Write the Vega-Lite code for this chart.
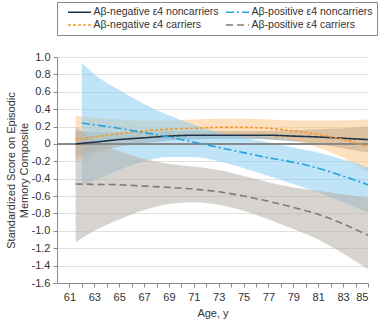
{
  "$schema": "https://vega.github.io/schema/vega-lite/v6.json",
  "width": 311,
  "height": 226,
  "autosize": {"type": "none"},
  "padding": {"left": 57, "top": 57, "right": 12, "bottom": 40},
  "config": {
    "font": "Liberation Sans Narrow, sans-serif",
    "view": {"stroke": null},
    "axis": {
      "labelFontSize": 11,
      "titleFontSize": 11,
      "titleFontWeight": "normal",
      "labelColor": "#333333",
      "titleColor": "#333333",
      "domainColor": "#8a8a8a",
      "tickColor": "#8a8a8a",
      "tickSize": 4,
      "gridColor": "#e0e0e0",
      "labelOverlap": false
    },
    "legend": {"labelFontSize": 10.5, "labelColor": "#333333"}
  },
  "data": {
    "values": [
      {"group": "Aβ-negative ε4 noncarriers", "age": 61.5, "mean": 0.0, "lo": -0.15, "hi": 0.15},
      {"group": "Aβ-negative ε4 noncarriers", "age": 63, "mean": 0.02, "lo": -0.09, "hi": 0.14},
      {"group": "Aβ-negative ε4 noncarriers", "age": 65, "mean": 0.05, "lo": -0.03, "hi": 0.13},
      {"group": "Aβ-negative ε4 noncarriers", "age": 67, "mean": 0.07, "lo": 0.01, "hi": 0.14},
      {"group": "Aβ-negative ε4 noncarriers", "age": 69, "mean": 0.09, "lo": 0.04, "hi": 0.15},
      {"group": "Aβ-negative ε4 noncarriers", "age": 71, "mean": 0.1, "lo": 0.05, "hi": 0.15},
      {"group": "Aβ-negative ε4 noncarriers", "age": 73, "mean": 0.1, "lo": 0.06, "hi": 0.15},
      {"group": "Aβ-negative ε4 noncarriers", "age": 75, "mean": 0.1, "lo": 0.06, "hi": 0.15},
      {"group": "Aβ-negative ε4 noncarriers", "age": 77, "mean": 0.1, "lo": 0.05, "hi": 0.15},
      {"group": "Aβ-negative ε4 noncarriers", "age": 79, "mean": 0.09, "lo": 0.03, "hi": 0.16},
      {"group": "Aβ-negative ε4 noncarriers", "age": 81, "mean": 0.08, "lo": 0.0, "hi": 0.17},
      {"group": "Aβ-negative ε4 noncarriers", "age": 83, "mean": 0.065, "lo": -0.05, "hi": 0.18},
      {"group": "Aβ-negative ε4 noncarriers", "age": 85, "mean": 0.05, "lo": -0.1, "hi": 0.2},

      {"group": "Aβ-negative ε4 carriers", "age": 61.5, "mean": 0.05, "lo": -0.2, "hi": 0.32},
      {"group": "Aβ-negative ε4 carriers", "age": 63, "mean": 0.08, "lo": -0.12, "hi": 0.3},
      {"group": "Aβ-negative ε4 carriers", "age": 65, "mean": 0.12, "lo": -0.03, "hi": 0.28},
      {"group": "Aβ-negative ε4 carriers", "age": 67, "mean": 0.15, "lo": 0.04, "hi": 0.27},
      {"group": "Aβ-negative ε4 carriers", "age": 69, "mean": 0.17, "lo": 0.08, "hi": 0.27},
      {"group": "Aβ-negative ε4 carriers", "age": 71, "mean": 0.18, "lo": 0.1, "hi": 0.28},
      {"group": "Aβ-negative ε4 carriers", "age": 73, "mean": 0.19, "lo": 0.1, "hi": 0.29},
      {"group": "Aβ-negative ε4 carriers", "age": 75, "mean": 0.19, "lo": 0.1, "hi": 0.29},
      {"group": "Aβ-negative ε4 carriers", "age": 77, "mean": 0.18, "lo": 0.08, "hi": 0.28},
      {"group": "Aβ-negative ε4 carriers", "age": 79, "mean": 0.15, "lo": 0.04, "hi": 0.27},
      {"group": "Aβ-negative ε4 carriers", "age": 81, "mean": 0.11, "lo": -0.04, "hi": 0.27},
      {"group": "Aβ-negative ε4 carriers", "age": 83, "mean": 0.05, "lo": -0.16, "hi": 0.27},
      {"group": "Aβ-negative ε4 carriers", "age": 85, "mean": -0.03, "lo": -0.33, "hi": 0.28},

      {"group": "Aβ-positive ε4 noncarriers", "age": 62, "mean": 0.24, "lo": -0.47, "hi": 0.93},
      {"group": "Aβ-positive ε4 noncarriers", "age": 63, "mean": 0.22, "lo": -0.42, "hi": 0.8},
      {"group": "Aβ-positive ε4 noncarriers", "age": 65, "mean": 0.18, "lo": -0.3, "hi": 0.62},
      {"group": "Aβ-positive ε4 noncarriers", "age": 67, "mean": 0.13, "lo": -0.2, "hi": 0.46},
      {"group": "Aβ-positive ε4 noncarriers", "age": 69, "mean": 0.08, "lo": -0.15, "hi": 0.33},
      {"group": "Aβ-positive ε4 noncarriers", "age": 71, "mean": 0.02, "lo": -0.15, "hi": 0.22},
      {"group": "Aβ-positive ε4 noncarriers", "age": 73, "mean": -0.04, "lo": -0.2, "hi": 0.13},
      {"group": "Aβ-positive ε4 noncarriers", "age": 75, "mean": -0.1, "lo": -0.28, "hi": 0.07},
      {"group": "Aβ-positive ε4 noncarriers", "age": 77, "mean": -0.16, "lo": -0.37, "hi": 0.02},
      {"group": "Aβ-positive ε4 noncarriers", "age": 79, "mean": -0.21, "lo": -0.46, "hi": -0.04},
      {"group": "Aβ-positive ε4 noncarriers", "age": 81, "mean": -0.28, "lo": -0.56, "hi": -0.1},
      {"group": "Aβ-positive ε4 noncarriers", "age": 83, "mean": -0.37, "lo": -0.67, "hi": -0.18},
      {"group": "Aβ-positive ε4 noncarriers", "age": 85, "mean": -0.47, "lo": -0.79, "hi": -0.27},

      {"group": "Aβ-positive ε4 carriers", "age": 61.5, "mean": -0.46, "lo": -1.13, "hi": 0.2},
      {"group": "Aβ-positive ε4 carriers", "age": 63, "mean": -0.465, "lo": -1.0, "hi": 0.05},
      {"group": "Aβ-positive ε4 carriers", "age": 65, "mean": -0.47, "lo": -0.87, "hi": -0.08},
      {"group": "Aβ-positive ε4 carriers", "age": 67, "mean": -0.485, "lo": -0.76, "hi": -0.17},
      {"group": "Aβ-positive ε4 carriers", "age": 69, "mean": -0.5, "lo": -0.69, "hi": -0.23},
      {"group": "Aβ-positive ε4 carriers", "age": 71, "mean": -0.52, "lo": -0.67, "hi": -0.26},
      {"group": "Aβ-positive ε4 carriers", "age": 73, "mean": -0.55, "lo": -0.7, "hi": -0.3},
      {"group": "Aβ-positive ε4 carriers", "age": 75, "mean": -0.6, "lo": -0.77, "hi": -0.37},
      {"group": "Aβ-positive ε4 carriers", "age": 77, "mean": -0.66, "lo": -0.87, "hi": -0.44},
      {"group": "Aβ-positive ε4 carriers", "age": 79, "mean": -0.73, "lo": -0.98, "hi": -0.5},
      {"group": "Aβ-positive ε4 carriers", "age": 81, "mean": -0.81, "lo": -1.1, "hi": -0.54},
      {"group": "Aβ-positive ε4 carriers", "age": 83, "mean": -0.92, "lo": -1.26, "hi": -0.58},
      {"group": "Aβ-positive ε4 carriers", "age": 85, "mean": -1.05, "lo": -1.44, "hi": -0.62}
    ]
  },
  "layer": [
    {
      "mark": {"type": "area", "interpolate": "monotone", "fillOpacity": 0.55},
      "encoding": {
        "x": {
          "field": "age", "type": "quantitative",
          "scale": {"domain": [60, 85], "nice": false, "zero": false},
          "axis": {
            "title": "Age, y",
            "values": [61,62,63,64,65,66,67,68,69,70,71,72,73,74,75,76,77,78,79,80,81,82,83,84,85],
            "tickCount": 30,
            "labelExpr": "datum.value % 2 == 1 ? datum.label : ''",
            "labelOverlap": false,
            "grid": false,
            "labelPadding": 4,
            "titlePadding": 5
          }
        },
        "y": {
          "field": "lo", "type": "quantitative",
          "scale": {"domain": [-1.6, 1.0], "nice": false, "zero": false},
          "axis": {
            "title": ["Standardized Score on Episodic", "Memory Composite"],
            "values": [-1.6,-1.4,-1.2,-1.0,-0.8,-0.6,-0.4,-0.2,0,0.2,0.4,0.6,0.8,1.0],
            "tickCount": 20,
            "labelExpr": "datum.value == 0 ? '0' : replace(format(datum.value, '.1f'), '−', '-')",
            "labelOverlap": false,
            "grid": true,
            "labelPadding": 3,
            "titlePadding": 2
          }
        },
        "y2": {"field": "hi"},
        "fill": {
          "field": "group", "type": "nominal",
          "scale": {
            "domain": ["Aβ-positive ε4 carriers", "Aβ-positive ε4 noncarriers", "Aβ-negative ε4 carriers", "Aβ-negative ε4 noncarriers"],
            "range": ["#b6afa6", "#8bccf0", "#fbc787", "#7d8690"]
          },
          "legend": null
        }
      }
    },
    {
      "mark": {"type": "rule", "color": "#8a8a8a", "strokeWidth": 1},
      "encoding": {"y": {"datum": 0}}
    },
    {
      "mark": {"type": "line", "interpolate": "monotone", "strokeWidth": 1.6},
      "encoding": {
        "x": {"field": "age", "type": "quantitative"},
        "y": {"field": "mean", "type": "quantitative"},
        "stroke": {
          "field": "group", "type": "nominal",
          "scale": {
            "domain": ["Aβ-negative ε4 noncarriers", "Aβ-positive ε4 noncarriers", "Aβ-negative ε4 carriers", "Aβ-positive ε4 carriers"],
            "range": ["#213447", "#1ea2dc", "#f39a2c", "#857a70"]
          },
          "legend": {
            "title": null,
            "orient": "top",
            "direction": "horizontal",
            "columns": 2,
            "symbolType": "M-2.3,0H2.3",
            "symbolSize": 100,
            "symbolStrokeWidth": 1.6,
            "symbolOffset": 12.5,
            "strokeColor": "#8a8a8a",
            "padding": 4,
            "offset": 22,
            "rowPadding": 1,
            "columnPadding": 0,
            "labelOffset": 8
          }
        },
        "strokeDash": {
          "field": "group", "type": "nominal",
          "scale": {
            "domain": ["Aβ-negative ε4 noncarriers", "Aβ-positive ε4 noncarriers", "Aβ-negative ε4 carriers", "Aβ-positive ε4 carriers"],
            "range": [[1, 0], [8, 3, 2, 3], [3, 2], [7, 4]]
          },
          "legend": {
            "title": null,
            "orient": "top",
            "direction": "horizontal",
            "columns": 2,
            "symbolType": "M-2.3,0H2.3",
            "symbolSize": 100,
            "symbolStrokeWidth": 1.6,
            "symbolOffset": 12.5,
            "strokeColor": "#8a8a8a",
            "padding": 4,
            "offset": 22,
            "rowPadding": 1,
            "columnPadding": 0,
            "labelOffset": 8
          }
        }
      }
    }
  ]
}
